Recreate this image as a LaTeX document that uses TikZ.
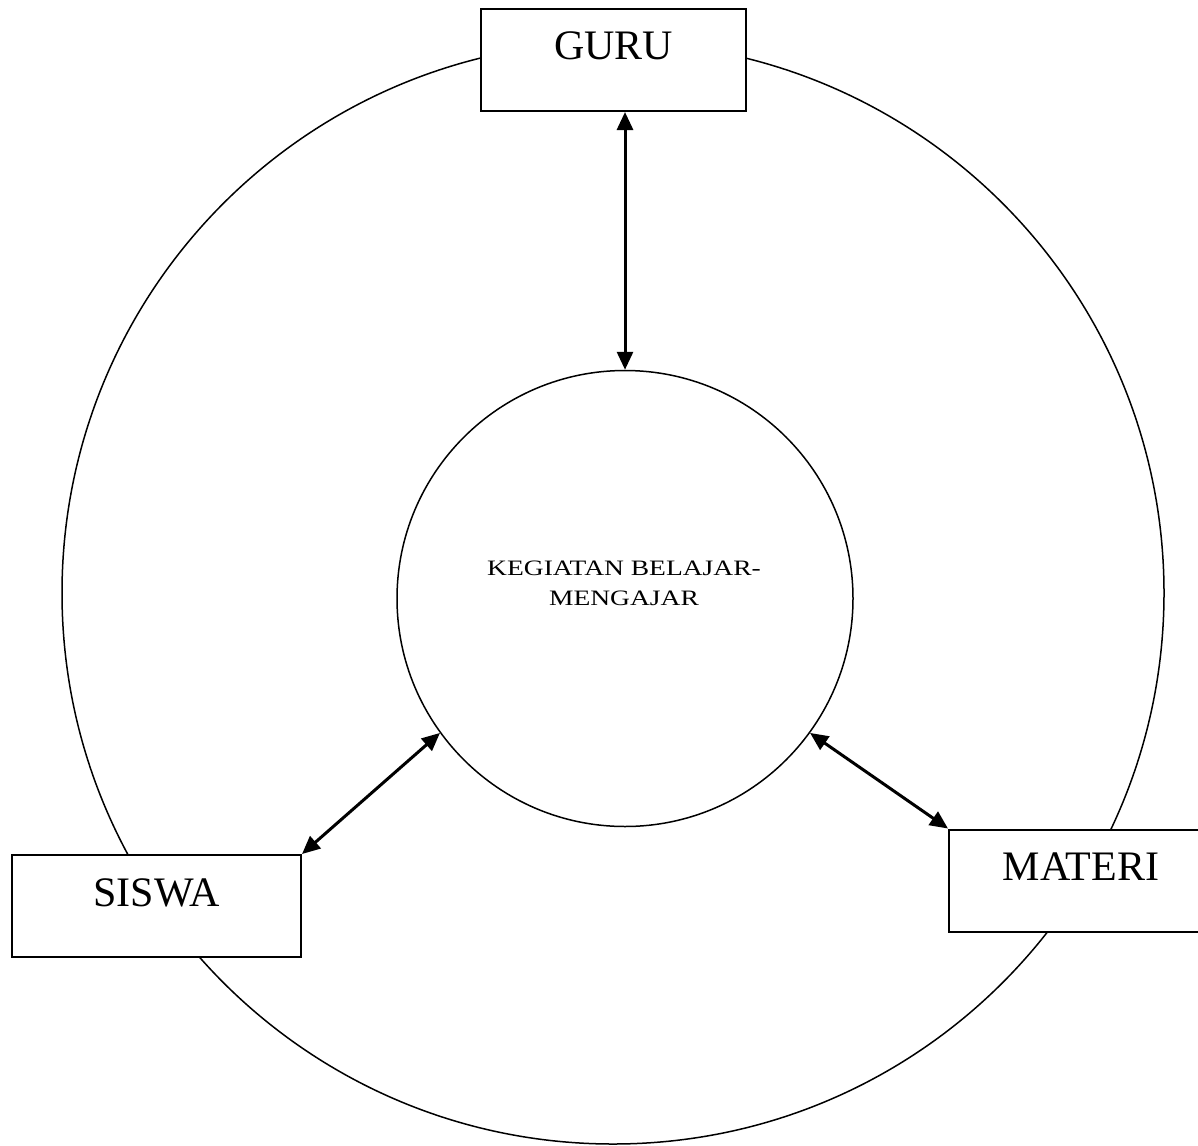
\documentclass[tikz,border=0pt]{standalone}
\usepackage{fontspec}
\setmainfont{Liberation Serif}
\newfontfamily\widefont[FakeStretch=1.25]{Liberation Serif}
\usetikzlibrary{arrows.meta}
\begin{document}
\begin{tikzpicture}[x=1pt,y=-1pt,
  ring/.style={draw, circle, line width=1.5pt, inner sep=0pt},
  actor/.style={draw, fill=white, line width=2pt, minimum height=102pt,
    text height=1pt, text depth=1pt, inner sep=0pt,
    font=\fontsize{42}{50}\selectfont},
  link/.style={line width=3pt, {Triangle[length=18pt,width=16pt]}-{Triangle[length=18pt,width=16pt]}}]
\useasboundingbox (0,0) rectangle (1198,1145);
\node[ring, minimum size=1102pt] (outer) at (613,593) {};
\node[ring, minimum size=456pt] (kbm) at (625,598.5) {};
\node[align=center, anchor=base, font=\widefont\fontsize{22}{30}\selectfont, inner sep=0pt] (kbmtext) at (624,605) {KEGIATAN BELAJAR-\\MENGAJAR};
\node[actor, minimum width=265pt] (guru) at (613.5,60) {GURU};
\node[actor, minimum width=289pt] (siswa) at (156.5,906) {SISWA};
\node[actor, minimum width=264pt] (materi) at (1081,880.5) {MATERI};
\draw[link] (kbm.north |- guru.south) -- (kbm.north);
\draw[link] (siswa.north east) -- (kbm.216.5);
\draw[link] (materi.north west) -- (kbm.324);
\end{tikzpicture}
\end{document}
